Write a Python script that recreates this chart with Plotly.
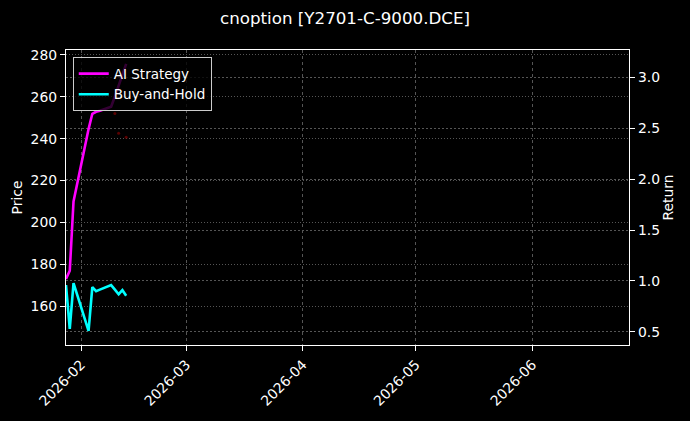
import plotly.graph_objects as go

# daily bars of the backtest
dates = ["2026-01-28", "2026-01-29", "2026-01-30", "2026-02-02", "2026-02-03",
         "2026-02-04", "2026-02-05", "2026-02-06", "2026-02-09", "2026-02-10",
         "2026-02-11", "2026-02-12", "2026-02-13"]
ai_strategy = [1.02, 1.10, 1.78, 2.32, 2.49, 2.64, 2.66, 2.67, 2.71, 2.81, 2.92, 3.03, 3.13]
buy_and_hold = [0.96, 0.53, 0.98, 0.62, 0.51, 0.94, 0.90, 0.915, 0.96, 0.915, 0.87, 0.91, 0.855]

# faint trade markers on the price axis
signal_dates = ["2026-02-10", "2026-02-11", "2026-02-13"]
signal_prices = [252, 242.6, 240.7]

month_ticks = ["2026-02-01", "2026-03-01", "2026-04-01", "2026-05-01", "2026-06-01"]
month_labels = ["2026-02", "2026-03", "2026-04", "2026-05", "2026-06"]
price_ticks = [160, 180, 200, 220, 240, 260, 280]
return_ticks = [0.5, 1.0, 1.5, 2.0, 2.5, 3.0]

fig = go.Figure()
fig.add_trace(go.Scatter(x=signal_dates, y=signal_prices, mode="markers",
                         marker=dict(size=3, color="rgba(130,0,0,0.7)"),
                         showlegend=False, hoverinfo="skip"))
fig.add_trace(go.Scatter(x=dates, y=ai_strategy, name="AI Strategy", yaxis="y2",
                         mode="lines", line=dict(color="#ff00ff", width=2.6)))
fig.add_trace(go.Scatter(x=dates, y=buy_and_hold, name="Buy-and-Hold", yaxis="y2",
                         mode="lines", line=dict(color="#00ffff", width=2.6)))

grid = dict(showgrid=True, gridcolor="#555555", gridwidth=0.5, zeroline=False)
frame = dict(showline=True, linecolor="white", linewidth=1.2,
             ticks="outside", ticklen=5, tickcolor="white")

fig.update_layout(
    width=690, height=421,
    paper_bgcolor="#000000", plot_bgcolor="#000000",
    font=dict(family="DejaVu Sans", color="white", size=13.9),
    margin=dict(l=66, r=61, t=50, b=70),
    title=dict(text="cnoption [Y2701-C-9000.DCE]", x=0.5, xanchor="center",
               y=0.957, yanchor="middle", font=dict(size=16.7)),
    legend=dict(x=0.012, y=0.975, xanchor="left", yanchor="top",
                bgcolor="rgba(0,0,0,0.8)", bordercolor="#cccccc", borderwidth=1,
                font=dict(size=13.5), tracegroupgap=0),
    xaxis=dict(type="date", range=["2026-01-28", "2026-06-26 17:00"],
               tickvals=month_ticks, ticktext=month_labels, tickangle=-45,
               mirror=True, griddash="3px,3px", **frame, **grid),
    yaxis=dict(title=dict(text="Price", standoff=4, font=dict(size=13.9)),
               range=[141.6, 282.3], tickvals=price_ticks, griddash="1px,2px",
               **frame, **grid),
    yaxis2=dict(title=dict(text="Return", standoff=4, font=dict(size=13.9)),
                overlaying="y", side="right",
                range=[0.372, 3.266], tickvals=return_ticks, tickformat=".1f",
                griddash="2px,2px", **frame, **grid),
)

# drop the default body margin so the figure sits at the page corner
fig.write_html("out.html", config={"displayModeBar": False},
               post_script="document.body.style.margin='0';document.body.style.background='#000';")
